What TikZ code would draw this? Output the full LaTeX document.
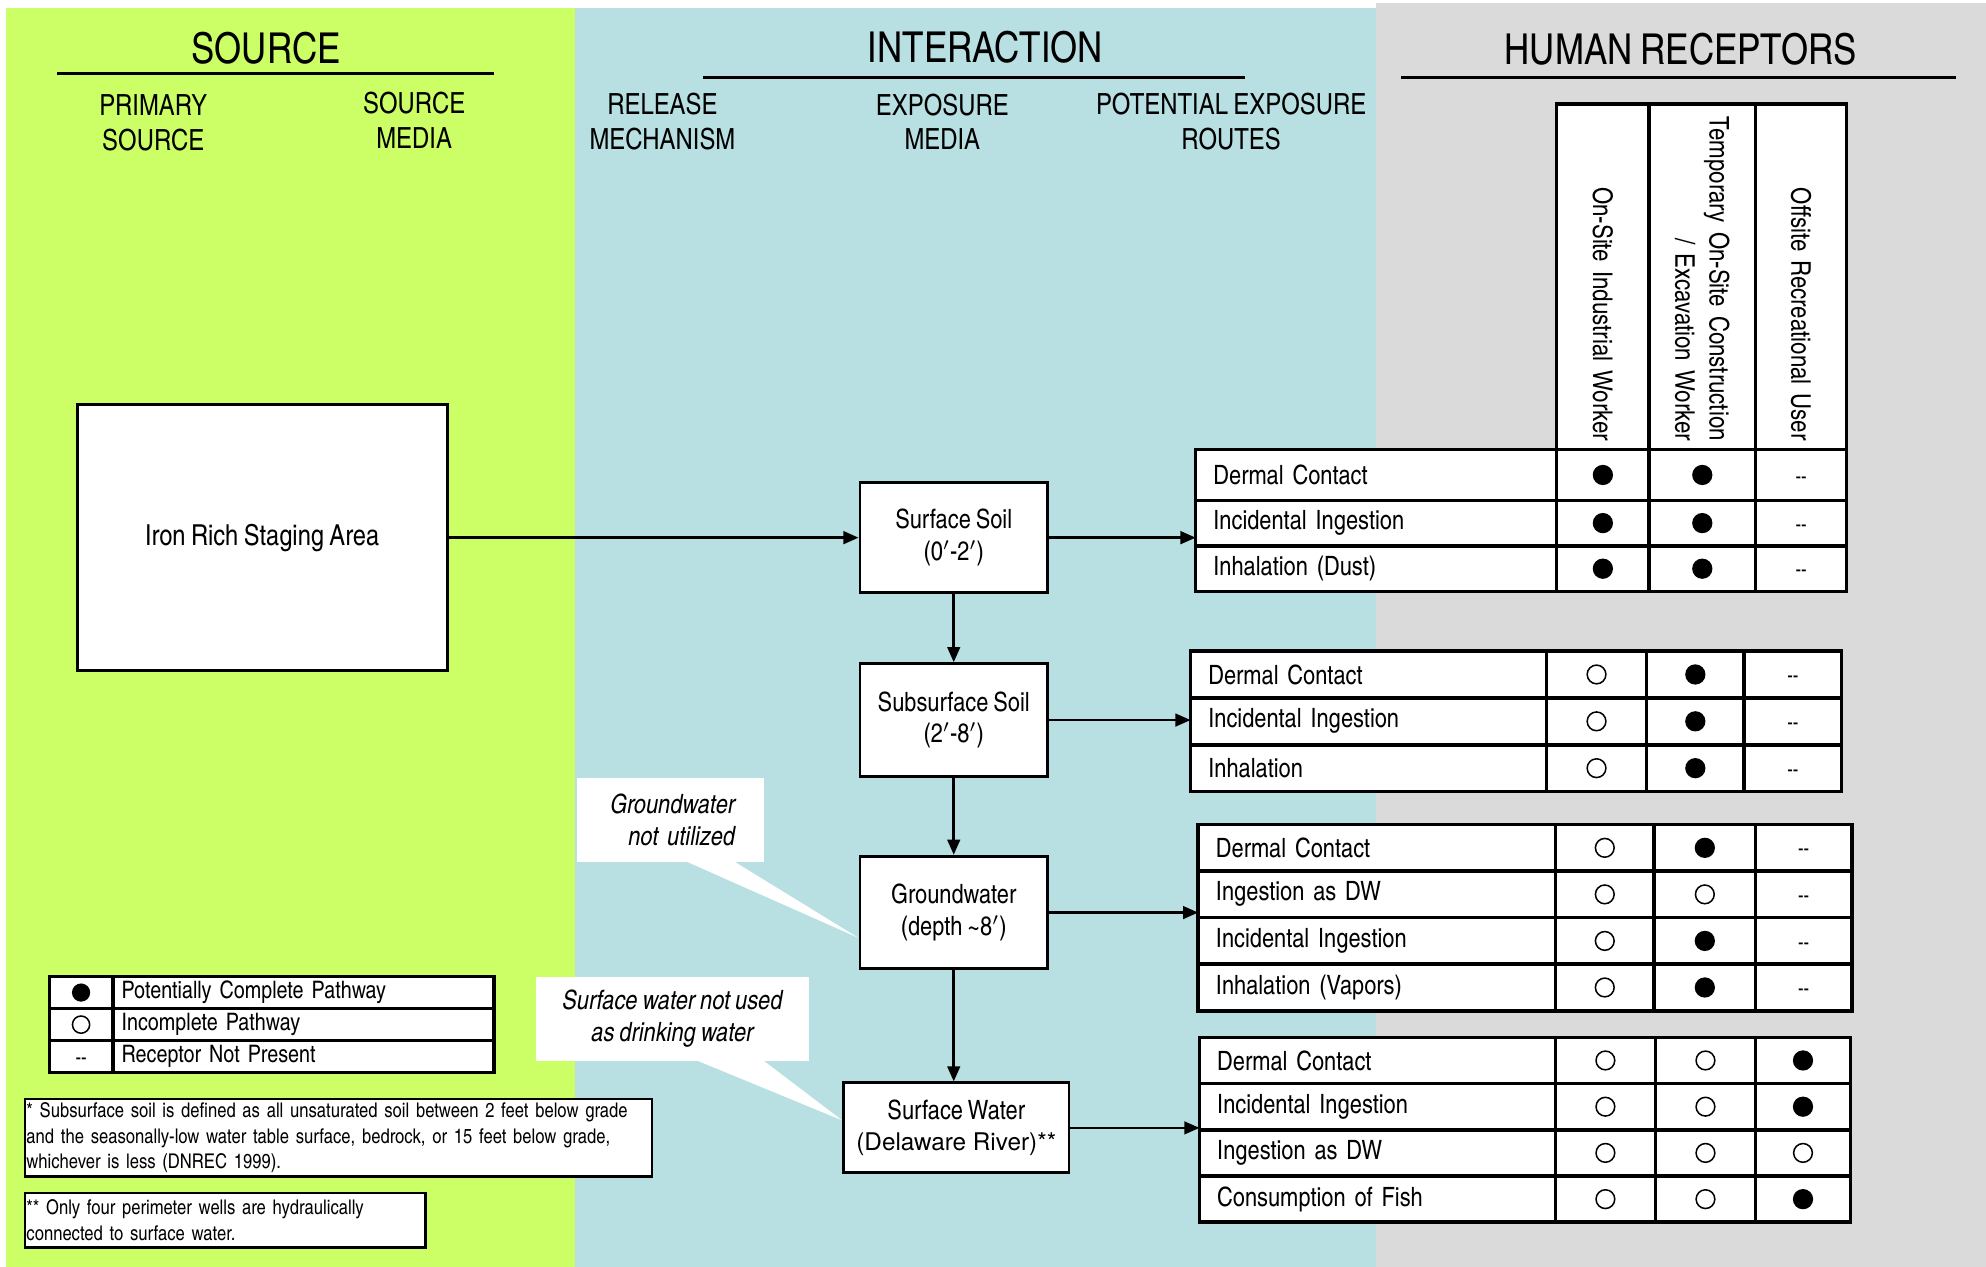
\documentclass[tikz,border=0pt]{standalone}
\usepackage{fontspec}
\setmainfont{texgyreheroscn-regular.otf}[ItalicFont=texgyreheroscn-italic.otf, BoldFont=texgyreheroscn-bold.otf, WordSpace=0.82]
\newfontfamily\widefont{TeX Gyre Heros}
\usepackage{tikz}
\usetikzlibrary{positioning,arrows.meta}
\definecolor{src-green}{HTML}{CCFF66}
\definecolor{int-blue}{HTML}{B8DFE2}
\definecolor{rec-grey}{HTML}{DADADA}
\newlength{\px}
\setlength{\px}{0.5pt}
\newcommand{\ftitle}{\fontsize{16.8}{20}\selectfont}
\newcommand{\fsub}{\fontsize{11.5}{13.5}\selectfont}
\newcommand{\fbody}{\fontsize{10.5}{12.5}\selectfont}
\newcommand{\fhead}{\fontsize{10.7}{13.5}\selectfont}
\newcommand{\flegend}{\fontsize{9.5}{11}\selectfont}
\newcommand{\fnote}{\fontsize{8}{10}\selectfont}
\newcommand{\pfull}[1][4pt]{\tikz\fill (0,0) circle [radius=#1];}
\newcommand{\pnone}[1][3.7pt]{\tikz\draw[line width=0.6pt] (0,0) circle [radius=#1];}
\newcommand{\pna}{{\fontsize{8}{10}\selectfont\raisebox{-3.2pt}[0pt][0pt]{-{}-}}}
\newcommand{\setcols}[5]{\def\cwl{#1}\def\cwa{#2}\def\cwb{#3}\def\cwc{#4}\def\crh{#5}}
\newcommand{\exprow}[6]{%
\node (#1)   [cell-a, #2, text width=\cwl\px, minimum height=\crh\px] {#3};
\node (#1-a) [cell-b, right = 0pt of #1,   minimum width=\cwa\px, minimum height=\crh\px] {#4};
\node (#1-b) [cell-b, right = 0pt of #1-a, minimum width=\cwb\px, minimum height=\crh\px] {#5};
\node (#1-c) [cell-b, right = 0pt of #1-b, minimum width=\cwc\px, minimum height=\crh\px] {#6};}

\begin{document}
\begin{tikzpicture}
[
x=\px, y=-\px,
title-a/.style={font=\ftitle},
rule-a/.style={line width=1.25pt},
text-a/.style={align=center, font=\fsub},
box-a/.style={draw, line width=1.15pt, fill=white, align=center, font=\fbody},
cell-a/.style={draw, line width=1.4pt, fill=white, outer sep=0pt, anchor=north west, align=left, inner xsep=14\px, inner ysep=0pt, font=\fbody},
cell-b/.style={draw, line width=1.4pt, fill=white, outer sep=0pt, inner sep=0pt, font=\fbody},
head-a/.style={draw, line width=1.4pt, fill=white, outer sep=0pt, rotate=-90, align=right, inner xsep=7\px, inner ysep=0pt, minimum width=273\px, text width=259\px, font=\fhead},
leg-s/.style={draw, line width=1.4pt, fill=white, outer sep=0pt, inner sep=0pt, anchor=north west, minimum width=50\px, minimum height=25.3\px},
leg-t/.style={draw, line width=1.4pt, fill=white, outer sep=0pt, inner xsep=7\px, inner ysep=0pt, text width=287\px, align=left, minimum height=25.3\px, font=\flegend},
note-a/.style={draw, line width=0.9pt, fill=white, anchor=north west, align=left, inner xsep=1\px, inner ysep=1\px, font=\fnote},
call-a/.style={fill=white, anchor=north west, font=\fbody\itshape},
flow/.style={line width=1pt, -{Triangle[length=6pt, width=5pt]}}
]
\fill[white]     (0,0)    rectangle (1568,1000);
\useasboundingbox (0,0)   rectangle (1568,1000);
\fill[src-green] (5,6)    rectangle (454,1000);
\fill[int-blue]  (454,6)  rectangle (1086,1000);
\fill[rec-grey]  (1086,2) rectangle (1568,1000);

\node (src-title) [title-a] at (210,38)  {SOURCE};
\node (int-title) [title-a] at (778,37)  {INTERACTION};
\node (rec-title) [title-a] at (1327,39) {HUMAN RECEPTORS};
\draw[rule-a] (45,58)   -- (390,58);
\draw[rule-a] (555,61)  -- (983,61);
\draw[rule-a] (1106,61) -- (1544,61);

\node (prim-src)  [text-a] at (121,97) {PRIMARY\\SOURCE};
\node (src-media) [text-a] at (327,95) {SOURCE\\MEDIA};
\node (release)   [text-a] at (523,96) {RELEASE\\MECHANISM};
\node (exp-media) [text-a] at (744,96) {EXPOSURE\\MEDIA};
\node (exp-route) [text-a] at (972,96) {POTENTIAL EXPOSURE\\ROUTES};

\node (rec-ind)   [head-a, minimum height=73\px] at (1265.5,218.5) {On-Site Industrial Worker};
\node (rec-con)   [head-a, minimum height=84\px] at (1344,218.5)   {\mbox{Temporary On-Site Construction}\\\mbox{/ Excavation Worker}};
\node (rec-off)   [head-a, minimum height=72\px] at (1422,218.5)   {Offsite Recreational User};

\node (gw-note)   [call-a, minimum width=148\px, minimum height=66\px, text width=102\px, inner xsep=23\px, align=right] at (455,614) {Groundwater\\not utilized};
\node (sw-note)   [call-a, minimum width=215\px, minimum height=66\px, align=center] at (423,771) {Surface water not used\\as drinking water};

\node (iron) [box-a, minimum width=292\px, minimum height=210\px, font=\fontsize{11.4}{13}\selectfont] at (207,424.5) {Iron Rich Staging Area};
\node (ss)   [box-a, minimum width=148\px, minimum height=87\px]  at (753,424.5) {Surface Soil\\(0$'$-2$'$)};
\node (sub)  [box-a, minimum width=148\px, minimum height=89\px]  at (753,568.5) {Subsurface Soil\\(2$'$-8$'$)};
\node (gw)   [box-a, minimum width=148\px, minimum height=89\px]  at (753,720.5) {Groundwater\\(depth \textasciitilde8$'$)};
\node (sw)   [box-a, minimum width=178\px, minimum height=71\px]  at (755,890.5) {Surface Water\\{\widefont\fontsize{9.6}{12.5}\selectfont (Delaware River)**}};

\fill[white] ([xshift=43pt, yshift=0.5pt]gw-note.south west) -- ([xshift=62pt, yshift=0.5pt]gw-note.south west) -- ([yshift=-10pt]gw.west) -- cycle;
\fill[white] ([xshift=63pt, yshift=0.5pt]sw-note.south west) -- ([xshift=89.5pt, yshift=0.5pt]sw-note.south west) -- ([yshift=3pt]sw.west) -- cycle;

\setcols{257}{73}{84}{72}{40}
\exprow{t1-1}{at={(944,355)}}{Dermal Contact}{\pfull}{\pfull}{\pna}
\def\crh{36}
\exprow{t1-2}{below = 0pt of t1-1}{Incidental Ingestion}{\pfull}{\pfull}{\pna}
\exprow{t1-3}{below = 0pt of t1-2}{Inhalation (Dust)}{\pfull}{\pfull}{\pna}

\setcols{253}{79}{77}{77}{37}
\exprow{t2-1}{at={(940,514)}}{Dermal Contact}{\pnone}{\pfull}{\pna}
\exprow{t2-2}{below = 0pt of t2-1}{Incidental Ingestion}{\pnone}{\pfull}{\pna}
\exprow{t2-3}{below = 0pt of t2-2}{Inhalation}{\pnone}{\pfull}{\pna}

\setcols{254}{78}{80}{76}{36.75}
\exprow{t3-1}{at={(946,651)}}{Dermal Contact}{\pnone}{\pfull}{\pna}
\exprow{t3-2}{below = 0pt of t3-1}{Ingestion as DW}{\pnone}{\pnone}{\pna}
\exprow{t3-3}{below = 0pt of t3-2}{Incidental Ingestion}{\pnone}{\pfull}{\pna}
\exprow{t3-4}{below = 0pt of t3-3}{Inhalation (Vapors)}{\pnone}{\pfull}{\pna}

\setcols{253}{79}{79}{75}{36.5}
\exprow{t4-1}{at={(947,819)}}{Dermal Contact}{\pnone}{\pnone}{\pfull}
\exprow{t4-2}{below = 0pt of t4-1}{Incidental Ingestion}{\pnone}{\pnone}{\pfull}
\exprow{t4-3}{below = 0pt of t4-2}{Ingestion as DW}{\pnone}{\pnone}{\pnone}
\exprow{t4-4}{below = 0pt of t4-3}{Consumption of Fish}{\pnone}{\pnone}{\pfull}

\draw[flow] (iron) -- (ss);
\draw[flow] (ss)   -- (sub);
\draw[flow] (sub)  -- (gw);
\draw[flow] (gw)   -- (gw |- sw.north);
\draw[flow] (ss.east)  -- (ss.east -| t1-2.west);
\draw[flow] (sub.east) -- (sub.east -| t2-2.west);
\draw[flow] (gw.east)  -- (gw.east -| t3-2.west);
\draw[flow] (sw.east)  -- (sw.east -| t4-2.west);

\node (leg-1)   [leg-s] at (39,771)          {\pfull[3.6pt]};
\node (leg-1-t) [leg-t, right = 0pt of leg-1] {Potentially Complete Pathway};
\node (leg-2)   [leg-s, below = 0pt of leg-1] {\pnone[3.4pt]};
\node (leg-2-t) [leg-t, right = 0pt of leg-2] {Incomplete Pathway};
\node (leg-3)   [leg-s, below = 0pt of leg-2] {\pna};
\node (leg-3-t) [leg-t, right = 0pt of leg-3] {Receptor Not Present};

\node (note-1) [note-a, text width=493\px, minimum height=61\px] at (19,867) {\mbox{* Subsurface soil is defined as all unsaturated soil between 2 feet below grade}\\\mbox{and the seasonally-low water table surface, bedrock, or 15 feet below grade,}\\\mbox{whichever is less (DNREC 1999).}};
\node (note-2) [note-a, text width=314\px, minimum height=43\px] at (19,941) {** Only four perimeter wells are hydraulically\\connected to surface water.};
\end{tikzpicture}
\end{document}
